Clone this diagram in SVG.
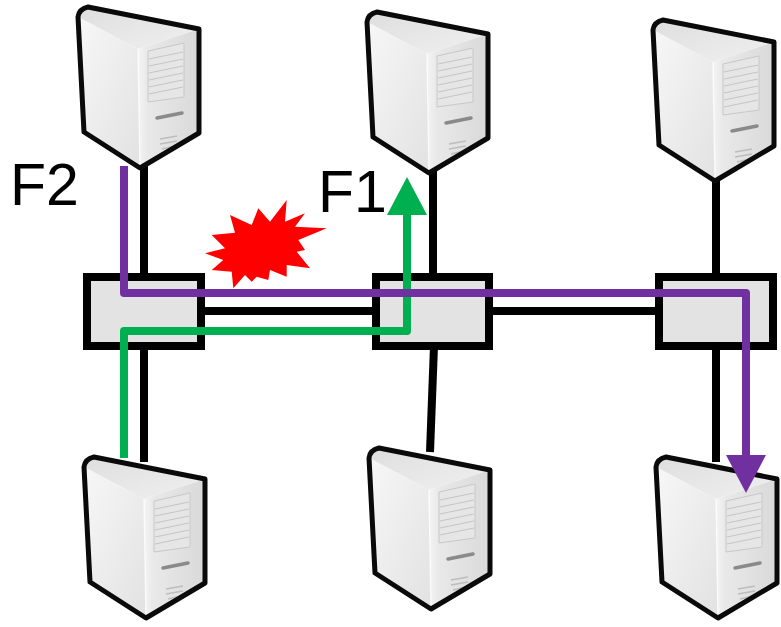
<svg xmlns="http://www.w3.org/2000/svg" width="781" height="627" viewBox="0 0 781 627">
  <style>
    .link { stroke: #000; stroke-width: 8; fill: none; }
    .switch { fill: #e3e3e3; stroke: #000; stroke-width: 8; }
    .flow { fill: none; stroke-width: 8; stroke-linejoin: round; }
    .label { font-family: "Liberation Sans", Arial, sans-serif; font-size: 59px; fill: #000; }
    .outline { fill: none; stroke: #0a0a0a; stroke-width: 5; stroke-linejoin: round; }
  </style>
  <defs>
    <linearGradient id="gLeft" x1="0" y1="0" x2="1" y2="1">
      <stop offset="0" stop-color="#f7f7f7"/>
      <stop offset="1" stop-color="#e2e2e2"/>
    </linearGradient>
    <linearGradient id="gRight" x1="0" y1="0" x2="1" y2="0">
      <stop offset="0" stop-color="#f4f4f4"/>
      <stop offset="0.15" stop-color="#e9e9e9"/>
      <stop offset="1" stop-color="#d9d9d9"/>
    </linearGradient>
    <linearGradient id="gTop" x1="0" y1="0" x2="1" y2="1">
      <stop offset="0" stop-color="#dedede"/>
      <stop offset="1" stop-color="#f0f0f0"/>
    </linearGradient>
    <marker id="arrowGreen" markerUnits="userSpaceOnUse" viewBox="0 0 38 40" refX="0" refY="20" markerWidth="38" markerHeight="40" orient="auto">
      <path d="M0,0 L38,20 L0,40 z" fill="#00b050"/>
    </marker>
    <marker id="arrowPurple" markerUnits="userSpaceOnUse" viewBox="0 0 38 40" refX="0" refY="20" markerWidth="38" markerHeight="40" orient="auto">
      <path d="M0,0 L38,20 L0,40 z" fill="#7030a0"/>
    </marker>
    <!-- tower server icon, local origin at top-left -->
    <g id="server">
      <path d="M0,12 Q1,4 10,2 L121,24 L60,44 z" fill="url(#gTop)"/>
      <path d="M0,12 L60,44 L62,163 L6,127 z" fill="url(#gLeft)"/>
      <path d="M60,44 L121,24 L121,128 L62,163 z" fill="url(#gRight)"/>
      <path d="M70,46 L106,38 L106,92 L70,97 z" fill="#e6e6e6" stroke="#c8c8c8" stroke-width="1"/>
      <g stroke="#c6c6c6" stroke-width="1.2">
        <line x1="71" y1="54" x2="105" y2="47"/>
        <line x1="71" y1="61" x2="105" y2="54"/>
        <line x1="71" y1="68" x2="105" y2="61"/>
        <line x1="71" y1="75" x2="105" y2="68"/>
        <line x1="71" y1="82" x2="105" y2="75"/>
        <line x1="71" y1="89" x2="105" y2="82"/>
      </g>
      <line x1="79" y1="113" x2="104" y2="108" stroke="#8a8a8a" stroke-width="3.5" stroke-linecap="round"/>
      <g stroke="#bdbdbd" stroke-width="1.5">
        <line x1="82" y1="134" x2="99" y2="131"/>
        <line x1="82" y1="139" x2="99" y2="136"/>
        <line x1="84" y1="144" x2="97" y2="141"/>
      </g>
      <line x1="60" y1="44" x2="62" y2="163" stroke="#ffffff" stroke-width="1.5" opacity="0.7"/>
      <path class="outline" d="M0,12 Q1,4 10,2 L121,24 L121,128 L62,163 L6,127 z"/>
    </g>
  </defs>

  <rect width="781" height="627" fill="#ffffff"/>

  <!-- physical links -->
  <g id="links">
    <line class="link" x1="144" y1="160" x2="144" y2="277"/>
    <line class="link" x1="144" y1="346" x2="144" y2="462"/>
    <line class="link" x1="433" y1="168" x2="433" y2="277"/>
    <line class="link" x1="434" y1="346" x2="430" y2="452"/>
    <line class="link" x1="716" y1="180" x2="716" y2="277"/>
    <line class="link" x1="716" y1="346" x2="716" y2="462"/>
    <line class="link" x1="201" y1="311" x2="376" y2="311"/>
    <line class="link" x1="489" y1="311" x2="659" y2="311"/>
  </g>

  <!-- switches -->
  <g id="switch-left"><rect class="switch" x="87" y="277" width="114" height="69"/></g>
  <g id="switch-middle"><rect class="switch" x="376" y="277" width="113" height="69"/></g>
  <g id="switch-right"><rect class="switch" x="659" y="277" width="114" height="69"/></g>

  <!-- servers -->
  <g id="server-top-left"><use href="#server" x="78" y="5"/></g>
  <g id="server-top-middle"><use href="#server" x="367" y="10"/></g>
  <g id="server-top-right"><use href="#server" x="653" y="18"/></g>
  <g id="server-bottom-left"><use href="#server" x="84" y="455"/></g>
  <g id="server-bottom-middle"><use href="#server" x="369" y="446"/></g>
  <g id="server-bottom-right"><use href="#server" x="656" y="455"/></g>

  <!-- failure mark on the left link -->
  <g id="failure">
    <polygon fill="#ff0000" points="205,253.3 225,248.3 211.7,235 235,232.7 230,215 251.7,225 258.3,208.3 270,221.7 286.7,200 285,221.7 305,213.3 295,226.7 326.7,228.3 298.3,240 305,250 296.7,251.7 310,268.3 286.7,265 286.7,276.7 270,270 268.3,280 256.7,276.7 251.7,281.7 245,275 233.3,288.3 231.7,271.7 211.7,270 223.3,260"/>
  </g>

  <!-- flows -->
  <g id="flows">
    <path class="flow" stroke="#00b050" d="M124,458 V331 H407 V215" marker-end="url(#arrowGreen)"/>
    <path class="flow" stroke="#7030a0" d="M124,166 V293 H746 V455" marker-end="url(#arrowPurple)"/>
  </g>

  <g id="labels">
    <text class="label" x="10" y="205">F2</text>
    <text class="label" x="318" y="212">F1</text>
  </g>
</svg>
